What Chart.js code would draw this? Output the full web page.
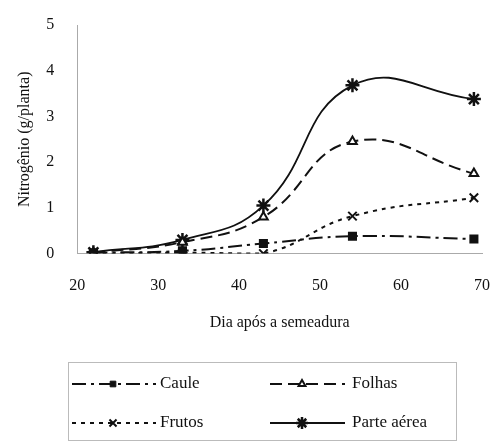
<!DOCTYPE html>
<html>
<head>
<meta charset="utf-8">
<script src="https://cdn.jsdelivr.net/npm/chart.js@4/dist/chart.umd.min.js"></script>
<style>
  html, body { margin: 0; padding: 0; background: #fff; }
  #wrap { width: 493px; height: 446px; }
</style>
</head>
<body>
<div id="wrap"><canvas id="chart" width="493" height="446"></canvas></div>
<script>
// ===================================
// DATA
// ===================================
const days = [22, 33, 43, 54, 69];
const caule = [0.02, 0.06, 0.22, 0.38, 0.32];
const folhas = [0.02, 0.25, 0.8, 2.45, 1.75];
const frutos = [0.0, 0.02, 0.0, 0.82, 1.22];
const parteAerea = [0.03, 0.3, 1.05, 3.68, 3.38];

const xTicks = [20, 30, 40, 50, 60, 70];
const yTicks = [0, 1, 2, 3, 4, 5];

const seriesNames = ['Caule', 'Folhas', 'Frutos', 'Parte aérea'];

const ink = '#111';
const serif = "'Liberation Serif', 'DejaVu Serif', serif";

function pts(values) {
    return values.map((v, i) => ({ x: days[i], y: v }));
}

const datasets = [
    {
        label: seriesNames[0],
        data: pts(caule),
        borderDash: [14, 5, 3, 5],
        pointStyle: 'rect',
        pointRadius: 5,
        pointBackgroundColor: ink
    },
    {
        label: seriesNames[1],
        data: pts(folhas),
        borderDash: [12, 6],
        pointStyle: 'triangle',
        pointRadius: 5,
        pointBackgroundColor: '#fff',
        pointBorderWidth: 2
    },
    {
        label: seriesNames[2],
        data: pts(frutos),
        borderDash: [4, 5],
        pointStyle: 'crossRot',
        pointRadius: 6,
        pointBorderWidth: 2
    },
    {
        label: seriesNames[3],
        data: pts(parteAerea),
        borderDash: [],
        borderWidth: 1.8,
        pointStyle: 'star',
        pointRadius: 7,
        pointBorderWidth: 2.5
    }
].map(d => Object.assign({
    borderColor: ink,
    backgroundColor: ink,
    pointBorderColor: ink,
    borderWidth: 2,
    tension: 0.45,
    fill: false
}, d));

// ===================================
// LEGEND BOX DRAWN UNDER THE AXIS
// ===================================
const boxLegend = {
    id: 'boxLegend',
    afterDraw(chart) {
        const ctx = chart.ctx;
        const left = 68, top = 362, right = 456, bottom = 440;
        ctx.save();
        ctx.strokeStyle = '#bbb';
        ctx.lineWidth = 1;
        ctx.strokeRect(left + 0.5, top + 0.5, right - left, bottom - top);

        const cells = [
            { x0: 72, x1: 156, mx: 113, tx: 160, y: 384 },
            { x0: 270, x1: 345, mx: 302, tx: 352, y: 384 },
            { x0: 72, x1: 156, mx: 113, tx: 160, y: 423 },
            { x0: 270, x1: 345, mx: 302, tx: 352, y: 423 }
        ];
        chart.data.datasets.forEach((ds, i) => {
            const c = cells[i];
            ctx.strokeStyle = ds.borderColor;
            ctx.lineWidth = ds.borderWidth;
            ctx.setLineDash(ds.borderDash);
            ctx.beginPath();
            ctx.moveTo(c.x0, c.y);
            ctx.lineTo(c.x1, c.y);
            ctx.stroke();
            ctx.setLineDash([]);
            ctx.fillStyle = ds.pointBackgroundColor || ink;
            ctx.strokeStyle = ds.pointBorderColor;
            ctx.lineWidth = ds.pointBorderWidth || 1;
            Chart.helpers.drawPoint(ctx, {
                pointStyle: ds.pointStyle,
                radius: ds.pointRadius - 1,
                rotation: 0,
                borderWidth: ds.pointBorderWidth || 1
            }, c.mx, c.y);
            ctx.fillStyle = ink;
            ctx.font = '17px ' + serif;
            ctx.textBaseline = 'middle';
            ctx.fillText(ds.label, c.tx, c.y);
        });
        ctx.restore();
    }
};

new Chart(document.getElementById('chart'), {
    type: 'line',
    data: { datasets: datasets },
    plugins: [boxLegend],
    options: {
        responsive: false,
        animation: false,
        layout: { padding: { top: 25, right: 11, bottom: 114, left: 15 } },
        plugins: {
            legend: { display: false },
            tooltip: { enabled: false }
        },
        scales: {
            x: {
                type: 'linear',
                min: xTicks[0],
                max: xTicks[xTicks.length - 1],
                afterBuildTicks: axis => { axis.ticks = xTicks.map(v => ({ value: v })); },
                afterFit: axis => { axis.paddingRight = 0; },
                grid: { display: false, drawTicks: false },
                border: { color: '#aaa', width: 1 },
                ticks: { color: ink, padding: 23, font: { family: serif, size: 16 } },
                title: {
                    display: true,
                    text: 'Dia após a semeadura',
                    color: ink,
                    padding: { top: -6, bottom: 0 },
                    font: { family: serif, size: 16 }
                }
            },
            y: {
                min: yTicks[0],
                max: yTicks[yTicks.length - 1],
                afterBuildTicks: axis => { axis.ticks = yTicks.map(v => ({ value: v })); },
                afterFit: axis => { axis.paddingTop = 0; },
                grid: { display: false, drawTicks: true, tickLength: 4, tickColor: '#aaa' },
                border: { color: '#aaa', width: 1 },
                ticks: { color: ink, padding: 19, font: { family: serif, size: 16 } },
                title: {
                    display: true,
                    text: 'Nitrogênio (g/planta)',
                    color: ink,
                    padding: { top: 0, bottom: -7 },
                    font: { family: serif, size: 16 }
                }
            }
        }
    }
});
</script>
</body>
</html>
